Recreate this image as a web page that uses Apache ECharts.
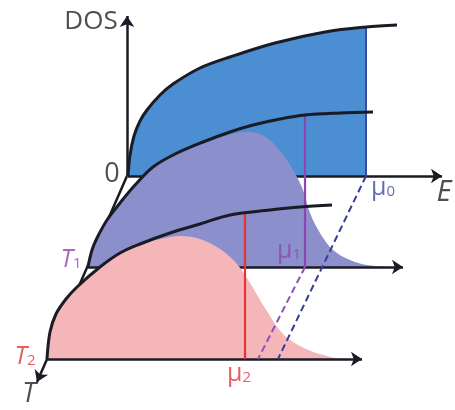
<!DOCTYPE html>
<html>
<head>
<meta charset="utf-8">
<script src="https://cdn.jsdelivr.net/npm/echarts@6/dist/echarts.min.js"></script>
<style>
  html, body { margin: 0; padding: 0; background: #fff; }
  #chart { width: 455px; height: 410px; }
</style>
</head>
<body>
<div id="chart"></div>
<script>
// DOS curves at three temperatures (T0 back, T1 middle, T2 front)
const dosT0 = [[128,176],[130,155],[134,136],[140,121],[147,110],[160,95],[173,84],[200,68],[230,57],[275,43],[325,32],[366,27],[397,25]];
const dosT1 = [[88,267],[92,250],[97,238],[107,220],[120,203],[135,185],[153,167],[175,154],[203,142],[230,132],[253,125],[280,119],[305,115],[340,113],[373,112]];
const dosT2 = [[47,359],[50,332],[56,314],[66,299],[77,287],[100,267],[120,253],[140,244],[170,233],[200,224],[230,215],[270,210],[300,207],[332,205]];

// occupied states (DOS x Fermi function) at T1 and T2
const occT1 = [[88,267],[92,250],[97,238],[107,220],[120,203],[135,185],[153,168],[175,156],[200,145],[225,136],[245,132],[260,134],[273,143],[287,160],[297,177],[303,190],[310,213],[320,233],[333,250],[350,260],[367,265],[395,267]];
const occT2 = [[47,359],[50,332],[56,314],[66,299],[77,287],[100,267],[120,253],[140,245],[160,239],[180,236],[200,239],[220,249],[237,264],[250,283],[265,308],[282,333],[300,346],[320,354],[345,359],[362,359]];

// chemical potentials and baselines per layer
const muE = [366, 305, 245];
const muTop = [27, 115, 213];
const baseY = [176, 267, 359];
const baseStart = [128, 88, 47];
const baseEnd = [442, 403, 362];
const muDashEnd = [[278, 359], [258, 359]];   // dashed projections of mu0, mu1 onto T2 plane

const ink = '#1b1b26';
const blueFill = '#4b8ed2', purpleFill = '#8b8fcb', pinkFill = '#f4b6b9';
const muColors = ['#3a4aa2', '#8e45b0', '#e5333a'];

function curve(data, z) {
  return { type: 'line', data: data, smooth: 0.35, symbol: 'none', silent: true, z: z,
    lineStyle: { color: ink, width: 3 } };
}
function fill(data, base, color, z) {
  return { type: 'line', data: data, smooth: 0.35, symbol: 'none', silent: true, z: z,
    lineStyle: { width: 0 }, areaStyle: { color: color, opacity: 1, origin: base } };
}
function seg(coords, color, width, z, arrow, dashed) {
  return { type: 'lines', coordinateSystem: 'cartesian2d', silent: true, z: z,
    symbol: arrow ? ['none', 'arrow'] : 'none', symbolSize: [9, 11],
    lineStyle: { color: color, width: width, opacity: 1, type: dashed ? [7, 4] : 'solid' },
    data: [{ coords: coords }] };
}

const font = '"Open Sans", "Noto Sans", sans-serif';
const sub = (c) => ({ fontSize: 15, color: c, fontFamily: font, padding: [8, 0, 0, 0] });
const labels = [
  { value: [91, 22], text: 'DOS', color: '#222', size: 26 },
  { value: [112, 174], text: '0', color: '#222', size: 27 },
  { value: [444, 193], text: '{i|E}', color: '#222', size: 29 },
  { value: [383, 188], text: '{m|μ}{s|0}', color: muColors[0], size: 25 },
  { value: [289, 251], text: '{m|μ}{s|1}', color: muColors[1], size: 25 },
  { value: [239, 374], text: '{m|μ}{s|2}', color: muColors[2], size: 25 },
  { value: [71, 260], text: '{i|T}{s|1}', color: muColors[1], size: 25 },
  { value: [25, 357], text: '{i|T}{s|2}', color: muColors[2], size: 25 },
  { value: [29, 394], text: '{i|T}', color: '#222', size: 27 }
];

const series = [
  fill(dosT0.filter(p => p[0] <= muE[0]), baseY[0], blueFill, 1),
  seg([[baseStart[0], baseY[0]], [baseEnd[0], baseY[0]]], ink, 2.7, 2, true),
  seg([[muE[0], muTop[0]], [muE[0], baseY[0]]], muColors[0], 2, 2),
  curve(dosT0, 3),
  seg([[127, baseY[0]], [127, 16]], ink, 2.5, 3, true),
  seg([[127, baseY[0]], [37, 382]], ink, 2.5, 3, true),

  fill(occT1, baseY[1], purpleFill, 4),
  seg([[baseStart[1], baseY[1]], [baseEnd[1], baseY[1]]], ink, 2.7, 5, true),
  seg([[muE[1], muTop[1]], [muE[1], baseY[1]]], muColors[1], 2.2, 5),
  curve(dosT1, 6),

  fill(occT2, baseY[2], pinkFill, 7),
  seg([[baseStart[2], baseY[2]], [baseEnd[2], baseY[2]]], ink, 2.7, 8, true),
  seg([[muE[2], muTop[2]], [muE[2], baseY[2]]], muColors[2], 2.2, 8),
  curve(dosT2, 9),

  seg([[muE[0], baseY[0]], muDashEnd[0]], '#363d96', 2, 10, false, true),
  seg([[muE[1], baseY[1]], muDashEnd[1]], '#8e4fb8', 2, 10, false, true),

  { type: 'scatter', symbolSize: 0, silent: true, z: 12,
    data: labels.map(l => ({ value: l.value, label: {
      show: true, position: 'inside', formatter: l.text, color: l.color,
      fontSize: l.size, fontFamily: font, align: 'center', verticalAlign: 'middle',
      rich: {
        m: { fontSize: l.size, color: l.color, fontFamily: font },
        i: { fontSize: l.size, color: l.color, fontFamily: font, fontStyle: 'italic' },
        s: sub(l.color)
      }
    } })) }
];

const chart = echarts.init(document.getElementById('chart'), null, { renderer: 'canvas' });
chart.setOption({
  animation: false,
  backgroundColor: '#fff',
  grid: { left: 0, right: 0, top: 0, bottom: 0 },
  xAxis: { type: 'value', min: 0, max: 455, show: false },
  yAxis: { type: 'value', min: 0, max: 410, inverse: true, show: false },
  series: series
});
</script>
</body>
</html>
